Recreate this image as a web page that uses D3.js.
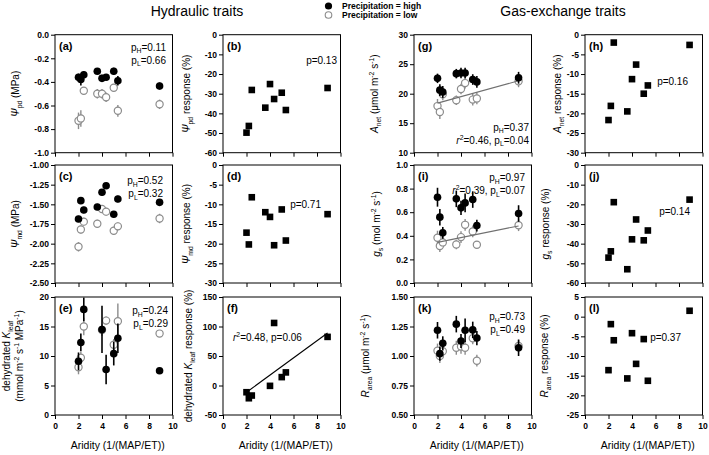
<!DOCTYPE html>
<html><head><meta charset="utf-8">
<script src="https://cdn.jsdelivr.net/npm/d3@7"></script>
<style>body{margin:0;background:#fff} text{font-family:"Liberation Sans",Arial,sans-serif;fill:#000}</style>
</head><body><svg id="c" width="709" height="455"></svg>
<script>
// ---------- data ----------
const aridity = [2.0, 2.2, 2.45, 3.6, 4.0, 4.35, 5.0, 5.35, 8.9];

const psiPdHigh    = [-0.36,-0.38,-0.34,-0.31,-0.37,-0.36,-0.31,-0.39,-0.435];
const psiPdHighErr = [0.03,0.05,0.03,0.02,0.03,0.02,0.03,0.04,0.03];
const psiPdLow     = [-0.73,-0.71,-0.475,-0.50,-0.50,-0.53,-0.45,-0.645,-0.59];
const psiPdLowErr  = [0.07,0.07,0.03,0.04,0.04,0.04,0.03,0.05,0.04];
const psiPdResp    = [-49.8,-46.4,-28.1,-37.1,-25.1,-32.7,-29.5,-38.3,-27.1];

const psiMdHigh    = [-1.686,-1.453,-1.572,-1.534,-1.347,-1.263,-1.627,-1.432,-1.475];
const psiMdHighErr = [0.04,0.04,0.04,0.04,0.04,0.03,0.04,0.04,0.03];
const psiMdLow     = [-2.04,-1.82,-1.72,-1.746,-1.559,-1.593,-1.835,-1.78,-1.68];
const psiMdLowErr  = [0.06,0.05,0.05,0.05,0.05,0.05,0.05,0.05,0.06];
const psiMdResp    = [-17.2,-20.2,-8.2,-12.0,-13.2,-20.4,-11.3,-19.2,-12.5];

const kleafHigh    = [9.1,12.3,17.9,null,14.5,7.7,10.4,13.0,7.5];
const kleafHighErr = [1.5,1.5,2.0,null,4.0,2.5,2.0,2.5,0.5];
const kleafLow     = [8.1,9.7,15.0,null,14.4,16.0,11.9,15.9,13.8];
const kleafLowErr  = [1.2,1.0,1.5,null,1.0,0.7,1.0,3.0,0.3];
const kleafResp    = [-11.4,-21.6,-17.0,null,-0.6,106,14.2,22.2,82.4];

const anetHigh     = [22.6,20.6,20.3,23.4,23.5,23.5,22.4,22.0,22.7];
const anetHighErr  = [0.8,1.0,1.0,0.8,0.9,0.9,0.9,1.0,1.0];
const anetLow      = [17.9,16.9,19.9,18.9,20.8,21.8,19.0,19.2,22.1];
const anetLowErr   = [1.2,1.2,1.0,0.8,0.9,0.9,1.0,1.0,1.0];
const anetResp     = [-21.7,-18.1,-2.0,-19.5,-11.3,-7.6,-15.0,-12.9,-2.6];

const gsHigh       = [0.727,0.558,0.425,0.713,0.637,0.679,0.707,0.487,0.589];
const gsHighErr    = [0.08,0.07,0.05,0.07,0.06,0.08,0.07,0.05,0.07];
const gsLow        = [0.383,0.313,0.344,0.327,0.389,0.493,0.437,0.324,0.49];
const gsLowErr     = [0.06,0.05,0.04,0.04,0.05,0.05,0.05,0.03,0.05];
const gsResp       = [-47.1,-43.9,-18.9,-53.0,-37.8,-27.7,-38.3,-33.3,-17.6];

const rHigh        = [1.218,1.02,1.107,1.27,1.127,1.218,1.221,1.152,1.07];
const rHighErr     = [0.07,0.06,0.06,0.07,0.06,0.1,0.07,0.06,0.07];
const rLow         = [1.045,1.00,1.04,1.07,1.08,1.07,1.15,0.96,1.085];
const rLowErr      = [0.06,0.06,0.06,0.06,0.06,0.06,0.05,0.05,0.05];
const rResp        = [-13.6,-1.9,-6.0,-15.7,-4.2,-12.0,-5.7,-16.3,1.5];

const xTicks = [0,2,4,6,8,10];
const ticksPsiPd = [0,-0.2,-0.4,-0.6,-0.8,-1.0];
const ticksPsiPdR = [0,-10,-20,-30,-40,-50,-60];
const ticksPsiMd = [-1.00,-1.25,-1.50,-1.75,-2.00,-2.25,-2.50];
const ticksPsiMdR = [0,-5,-10,-15,-20,-25,-30];
const ticksKleaf = [0,5,10,15,20];
const ticksKleafR = [-50,0,50,100,150];
const ticksAnet = [10,15,20,25,30];
const ticksAnetR = [0,-5,-10,-15,-20,-25,-30];
const ticksGs = [0,0.2,0.4,0.6,0.8,1.0];
const ticksGsR = [0,-10,-20,-30,-40,-50,-60];
const ticksR = [0.50,0.75,1.00,1.25,1.50];
const ticksRR = [5,0,-5,-10,-15,-20,-25];

// ---------- layout ----------
const svg = d3.select("#c");
const colX = [55, 223, 414, 585], rowY = [34.7, 165, 297];
const PW = 117.5, PH = 118;
const FONT = '"Liberation Sans",Arial,sans-serif';

function fmt(d){ return v => d3.format(d)(v).replace("\u2212","-"); }

function rich(parent, x, y, parts, fs, opts={}) {
  const t = parent.append("text").attr("x", x).attr("y", y)
    .style("font-size", fs + "px").style("font-weight", opts.bold ? "bold" : "normal")
    .attr("text-anchor", opts.anchor || "start");
  if (opts.rotate) t.attr("transform", `rotate(-90,${x},${y})`);
  let shift = 0;
  parts.forEach(p => {
    const [txt, st] = typeof p === "string" ? [p, ""] : p;
    let target = 0;
    if (st.includes("sub")) target = fs * 0.28;
    if (st.includes("sup")) target = -fs * 0.38;
    const ts = t.append("tspan").text(txt).attr("dy", target - shift);
    shift = target;
    if (st.includes("sub") || st.includes("sup")) ts.style("font-size", (fs * 0.68) + "px");
    if (st.includes("i")) ts.style("font-style", "italic");
  });
  return t;
}

function panel(o) {
  const g = svg.append("g").attr("transform", `translate(${colX[o.col]},${rowY[o.row]})`);
  const x = d3.scaleLinear().domain([0, 10]).range([0, PW]);
  const y = d3.scaleLinear().domain(o.domain).range([PH, 0]);
  const ya = g.append("g").call(d3.axisLeft(y).tickValues(o.ticks).tickFormat(fmt(o.fmt)).tickSize(4).tickSizeOuter(0));
  const xa = g.append("g").attr("transform", `translate(0,${PH})`)
    .call(d3.axisBottom(x).tickValues(xTicks).tickFormat(o.row === 2 ? fmt("d") : "").tickSize(4).tickSizeOuter(0));
  [ya, xa].forEach(a => {
    a.selectAll("path.domain").remove();
    a.selectAll("line").attr("stroke", "#000").attr("stroke-width", 1);
    a.selectAll("text").style("font-family", FONT).style("font-size", "8.5px").style("font-weight", "bold").attr("fill", "#000");
  });
  ya.selectAll("text").attr("x", -6);
  xa.selectAll("text").attr("y", 8);
  g.append("rect").attr("width", PW).attr("height", PH).attr("fill", "none").attr("stroke", "#000").attr("stroke-width", 1);

  const idx = aridity.map((d, i) => i);
  const valid = (arr) => idx.filter(i => arr[i] != null);
  if (o.low) {
    const v = valid(o.low);
    g.selectAll(null).data(v).enter().append("line")
      .attr("x1", i => x(aridity[i])).attr("x2", i => x(aridity[i]))
      .attr("y1", i => y(o.low[i] - o.lowErr[i])).attr("y2", i => y(o.low[i] + o.lowErr[i]))
      .attr("stroke", "#8c8c8c").attr("stroke-width", 1.4);
    g.selectAll(null).data(v).enter().append("circle")
      .attr("cx", i => x(aridity[i])).attr("cy", i => y(o.low[i])).attr("r", 3.6)
      .attr("fill", "#fff").attr("stroke", "#8c8c8c").attr("stroke-width", 1.2);
    if (o.lowFit) drawFit(g, x, y, v.map(i => aridity[i]), v.map(i => o.low[i]), "#707070");
  }
  if (o.high) {
    const v = valid(o.high);
    g.selectAll(null).data(v).enter().append("line")
      .attr("x1", i => x(aridity[i])).attr("x2", i => x(aridity[i]))
      .attr("y1", i => y(o.high[i] - o.highErr[i])).attr("y2", i => y(o.high[i] + o.highErr[i]))
      .attr("stroke", "#000").attr("stroke-width", 1.6);
    g.selectAll(null).data(v).enter().append("circle")
      .attr("cx", i => x(aridity[i])).attr("cy", i => y(o.high[i])).attr("r", 3.8)
      .attr("fill", "#000");
  }
  if (o.resp) {
    const v = valid(o.resp);
    if (o.respFit) drawFit(g, x, y, v.map(i => aridity[i]), v.map(i => o.resp[i]), "#000");
    const s = 6.6;
    g.selectAll(null).data(v).enter().append("rect")
      .attr("x", i => x(aridity[i]) - s / 2).attr("y", i => y(o.resp[i]) - s / 2)
      .attr("width", s).attr("height", s).attr("fill", "#000");
  }
  g.append("text").attr("x", 4).attr("y", 15).text(o.letter)
    .style("font-size", "11px").style("font-weight", "bold");
  (o.notes || []).forEach(n => rich(g, n.x, n.y, n.parts, 10, { anchor: n.anchor || "end" }));
  (o.ylab || []).forEach(l => rich(svg, l.x, rowY[o.row] + PH / 2, l.parts, 10, { anchor: "middle", rotate: true }));
  if (o.row === 2) {
    svg.append("text").attr("x", colX[o.col] + PW / 2 + 4).attr("y", 449).attr("text-anchor", "middle")
      .style("font-size", "10.5px").text("Aridity (1/(MAP/ET))");
  }
}

function drawFit(g, x, y, xs, ys, color) {
  const mx = d3.mean(xs), my = d3.mean(ys);
  const b = d3.sum(xs, (d, i) => (d - mx) * (ys[i] - my)) / d3.sum(xs, d => (d - mx) * (d - mx));
  const a = my - b * mx;
  const [x0, x1] = d3.extent(xs);
  g.append("line").attr("x1", x(x0)).attr("x2", x(x1)).attr("y1", y(a + b * x0)).attr("y2", y(a + b * x1))
    .attr("stroke", color).attr("stroke-width", 1.1);
}

const PSI = "\u03A8";
const unitA = [" (", "\u03BCmol m", ["-2", "sup"], " s", ["-1", "sup"], ")"];

panel({ row: 0, col: 0, letter: "(a)", domain: [-1, 0], ticks: ticksPsiPd, fmt: ".1f",
  high: psiPdHigh, highErr: psiPdHighErr, low: psiPdLow, lowErr: psiPdLowErr,
  notes: [{ x: 111, y: 16, parts: ["p", ["H", "sub"], "=0.11"] }, { x: 111, y: 29, parts: ["p", ["L", "sub"], "=0.66"] }],
  ylab: [{ x: 19, parts: [[PSI, "i"], ["pd", "sub"], " (MPa)"] }] });
panel({ row: 0, col: 1, letter: "(b)", domain: [-60, 0], ticks: ticksPsiPdR, fmt: "d", resp: psiPdResp,
  notes: [{ x: 114, y: 29, parts: ["p=0.13"] }],
  ylab: [{ x: 190, parts: [[PSI, "i"], ["pd", "sub"], " response (%)"] }] });
panel({ row: 1, col: 0, letter: "(c)", domain: [-2.5, -1], ticks: ticksPsiMd, fmt: ".2f",
  high: psiMdHigh, highErr: psiMdHighErr, low: psiMdLow, lowErr: psiMdLowErr,
  notes: [{ x: 108, y: 19, parts: ["p", ["H", "sub"], "=0.52"] }, { x: 108, y: 32, parts: ["p", ["L", "sub"], "=0.32"] }],
  ylab: [{ x: 19, parts: [[PSI, "i"], ["md", "sub"], " (MPa)"] }] });
panel({ row: 1, col: 1, letter: "(d)", domain: [-30, 0], ticks: ticksPsiMdR, fmt: "d", resp: psiMdResp,
  notes: [{ x: 98, y: 43, parts: ["p=0.71"] }],
  ylab: [{ x: 190, parts: [[PSI, "i"], ["md", "sub"], " response (%)"] }] });
panel({ row: 2, col: 0, letter: "(e)", domain: [0, 20], ticks: ticksKleaf, fmt: "d",
  high: kleafHigh, highErr: kleafHighErr, low: kleafLow, lowErr: kleafLowErr,
  notes: [{ x: 113, y: 17, parts: ["p", ["H", "sub"], "=0.24"] }, { x: 113, y: 30, parts: ["p", ["L", "sub"], "=0.29"] }],
  ylab: [{ x: 10, parts: ["dehydrated ", ["K", "i"], ["leaf", "sub"]] },
         { x: 23, parts: ["(mmol m", ["-2", "sup"], " s", ["-1", "sup"], " MPa", ["-1", "sup"], ")"] }] });
panel({ row: 2, col: 1, letter: "(f)", domain: [-50, 150], ticks: ticksKleafR, fmt: "d", resp: kleafResp, respFit: true,
  notes: [{ x: 10, y: 44, anchor: "start", parts: [["r", "i"], ["2", "sup"], "=0.48, p=0.06"] }],
  ylab: [{ x: 192, parts: ["dehydrated ", ["K", "i"], ["leaf", "sub"], " response (%)"] }] });
panel({ row: 0, col: 2, letter: "(g)", domain: [10, 30], ticks: ticksAnet, fmt: "d",
  high: anetHigh, highErr: anetHighErr, low: anetLow, lowErr: anetLowErr, lowFit: true,
  notes: [{ x: 115, y: 96, parts: ["p", ["H", "sub"], "=0.37"] }, { x: 115, y: 109, parts: [["r", "i"], ["2", "sup"], "=0.46, p", ["L", "sub"], "=0.04"] }],
  ylab: [{ x: 378, parts: [["A", "i"], ["net", "sub"], ...unitA] }] });
panel({ row: 0, col: 3, letter: "(h)", domain: [-30, 0], ticks: ticksAnetR, fmt: "d", resp: anetResp,
  notes: [{ x: 103, y: 50, parts: ["p=0.16"] }],
  ylab: [{ x: 561, parts: [["A", "i"], ["net", "sub"], " response (%)"] }] });
panel({ row: 1, col: 2, letter: "(i)", domain: [0, 1], ticks: ticksGs, fmt: ".1f",
  high: gsHigh, highErr: gsHighErr, low: gsLow, lowErr: gsLowErr, lowFit: true,
  notes: [{ x: 111, y: 16, parts: ["p", ["H", "sub"], "=0.97"] }, { x: 111, y: 29, parts: [["r", "i"], ["2", "sup"], "=0.39, p", ["L", "sub"], "=0.07"] }],
  ylab: [{ x: 380, parts: [["g", "i"], ["s", "sub"], " (mol m", ["-2", "sup"], " s", ["-1", "sup"], ")"] }] });
panel({ row: 1, col: 3, letter: "(j)", domain: [-60, 0], ticks: ticksGsR, fmt: "d", resp: gsResp,
  notes: [{ x: 105, y: 50, parts: ["p=0.14"] }],
  ylab: [{ x: 549, parts: [["g", "i"], ["s", "sub"], " response (%)"] }] });
panel({ row: 2, col: 2, letter: "(k)", domain: [0.5, 1.5], ticks: ticksR, fmt: ".2f",
  high: rHigh, highErr: rHighErr, low: rLow, lowErr: rLowErr,
  notes: [{ x: 111, y: 23, parts: ["p", ["H", "sub"], "=0.73"] }, { x: 111, y: 36, parts: ["p", ["L", "sub"], "=0.49"] }],
  ylab: [{ x: 369, parts: [["R", "i"], ["area", "sub"], ...unitA] }] });
panel({ row: 2, col: 3, letter: "(l)", domain: [-25, 5], ticks: ticksRR, fmt: "d", resp: rResp,
  notes: [{ x: 96, y: 44, parts: ["p=0.37"] }],
  ylab: [{ x: 548, parts: [["R", "i"], ["area", "sub"], " response (%)"] }] });

svg.append("text").attr("x", 197).attr("y", 16).attr("text-anchor", "middle").style("font-size", "14px").text("Hydraulic traits");
svg.append("text").attr("x", 563).attr("y", 16).attr("text-anchor", "middle").style("font-size", "14px").text("Gas-exchange traits");
svg.append("circle").attr("cx", 328.5).attr("cy", 6).attr("r", 3.6).attr("fill", "#000");
svg.append("circle").attr("cx", 328.5).attr("cy", 15).attr("r", 3.3).attr("fill", "#fff").attr("stroke", "#8c8c8c").attr("stroke-width", 1.1);
svg.append("text").attr("x", 342).attr("y", 9).style("font-size", "8.5px").style("font-weight", "bold").text("Precipitation = high");
svg.append("text").attr("x", 342).attr("y", 18).style("font-size", "8.5px").style("font-weight", "bold").text("Precipitation = low");
</script></body></html>
